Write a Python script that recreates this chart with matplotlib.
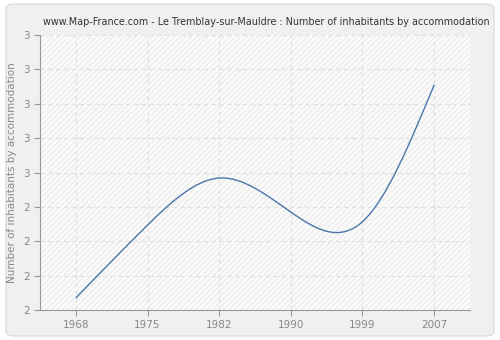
import numpy as np
import matplotlib
matplotlib.use("Agg")
import matplotlib.pyplot as plt
from matplotlib.path import Path
from matplotlib.patches import PathPatch, FancyBboxPatch

years = ["1968", "1975", "1982", "1990", "1999", "2007"]
values = [2.235, 2.447, 2.584, 2.485, 2.457, 2.855]
yticks = [2.2, 2.3, 2.4, 2.5, 2.6, 2.7, 2.8, 2.9, 3.0]

plt.rcParams["hatch.linewidth"] = 0.5


def smooth_path(x, y):
    # natural cubic spline drawn as bezier segments
    x = np.asarray(x, float)
    y = np.asarray(y, float)
    n = len(x)
    h = np.diff(x)
    A = np.zeros((n, n))
    b = np.zeros(n)
    A[0, 0] = A[-1, -1] = 1
    for i in range(1, n - 1):
        A[i, i - 1] = h[i - 1]
        A[i, i] = 2 * (h[i - 1] + h[i])
        A[i, i + 1] = h[i]
        b[i] = 6 * ((y[i + 1] - y[i]) / h[i] - (y[i] - y[i - 1]) / h[i - 1])
    M = np.linalg.solve(A, b)
    verts = [(x[0], y[0])]
    codes = [Path.MOVETO]
    for i in range(n - 1):
        s = (y[i + 1] - y[i]) / h[i]
        d0 = s - h[i] * (2 * M[i] + M[i + 1]) / 6
        d1 = s + h[i] * (M[i] + 2 * M[i + 1]) / 6
        verts += [(x[i] + h[i] / 3, y[i] + d0 * h[i] / 3),
                  (x[i + 1] - h[i] / 3, y[i + 1] - d1 * h[i] / 3),
                  (x[i + 1], y[i + 1])]
        codes += [Path.CURVE4] * 3
    return Path(verts, codes)


fig = plt.figure(figsize=(5, 3.4), dpi=100)
fig.patch.set_facecolor("white")
fig.patches.append(FancyBboxPatch((0.012, 0.012), 0.976, 0.976,
                                  boxstyle="round,pad=0,rounding_size=0.015",
                                  transform=fig.transFigure, facecolor="#f0f0f0",
                                  edgecolor="#dddddd", linewidth=1, zorder=-10))

ax = fig.add_axes([0.08, 0.088, 0.86, 0.809])
ax.set_facecolor("#fafafa")
ax.patch.set_hatch("//////")
ax.patch.set_edgecolor("#e3e3e3")
ax.patch.set_linewidth(0)

xs = np.arange(len(years))
ax.add_patch(PathPatch(smooth_path(xs, values), facecolor="none",
                       edgecolor="#4a76a8", linewidth=1, zorder=3))

ax.set_xlim(-0.5, len(years) - 0.5)
ax.set_ylim(2.2, 3.0)
ax.set_xticks(xs)
ax.set_xticklabels(years)
ax.set_yticks(yticks)
ax.set_yticklabels(["%.0f" % v for v in yticks])

ax.grid(True, color="#e0e0e0", linestyle=(0, (4, 3)), linewidth=0.8)
ax.set_axisbelow(True)
for side in ["top", "right"]:
    ax.spines[side].set_visible(False)
for side in ["left", "bottom"]:
    ax.spines[side].set_color("#999999")
ax.tick_params(colors="#999999", labelcolor="#888888", labelsize=7.5, length=4)

ax.set_ylabel("Number of inhabitants by accommodation", color="#888888", fontsize=7.5)
fig.text(0.533, 0.935, "www.Map-France.com - Le Tremblay-sur-Mauldre : Number of inhabitants by accommodation",
         color="#333333", fontsize=6.95, ha="center", va="center")

fig.savefig("out.png", dpi=100, facecolor=fig.get_facecolor())
